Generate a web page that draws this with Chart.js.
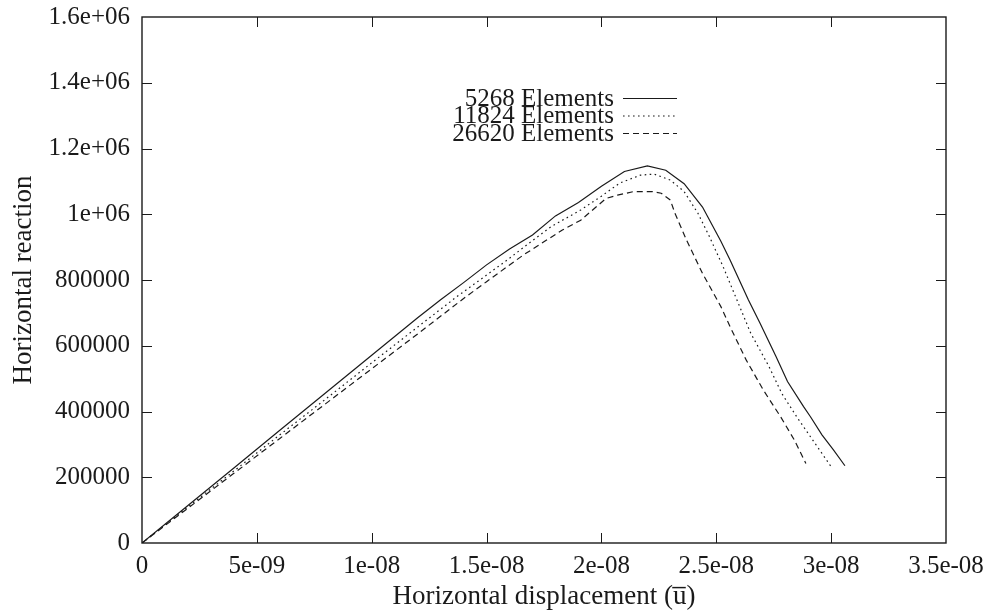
<!DOCTYPE html>
<html>
<head>
<meta charset="utf-8">
<script src="https://cdn.jsdelivr.net/npm/chart.js@4"></script>
<style>
  body { margin: 0; background: #fff; }
</style>
</head>
<body>
<canvas id="reaction" width="998" height="613"></canvas>
<script>
// values
const seriesNames = ['5268 Elements', '11824 Elements', '26620 Elements'];

const x5268 = [0, 2e-9, 4e-9, 6e-9, 8e-9, 10e-9, 12e-9, 13e-9, 14e-9, 15e-9, 16e-9, 17e-9, 18e-9, 19e-9, 20e-9, 21e-9,
  22e-9, 22.8e-9, 23.6e-9, 24.4e-9, 25.2e-9, 25.6e-9, 26e-9, 26.4e-9, 26.9e-9, 27.6e-9, 28.1e-9, 28.8e-9, 29.1e-9,
  29.6e-9, 30.1e-9, 30.6e-9];
const y5268 = [0, 114000, 228000, 343000, 457000, 571000, 685000, 740000, 792000, 846000, 894000, 937000, 995000,
  1036000, 1085000, 1130000, 1147000, 1134000, 1093000, 1022000, 918000, 861000, 800000, 739000, 669000, 567000,
  491000, 415000, 384000, 329000, 283000, 235000];

const x11824 = [0, 2e-9, 4e-9, 6e-9, 8e-9, 10e-9, 12e-9, 13.7e-9, 15e-9, 15.9e-9, 17e-9, 17.8e-9, 19.1e-9, 20e-9,
  20.8e-9, 21.7e-9, 22.3e-9, 23e-9, 23.6e-9, 24.2e-9, 24.7e-9, 25.3e-9, 25.9e-9, 26.5e-9, 27.3e-9, 27.85e-9, 28.5e-9,
  29.2e-9, 30e-9];
const y11824 = [0, 110000, 219000, 329000, 438000, 548000, 657000, 749000, 815000, 861000, 920000, 962000, 1013000,
  1055000, 1095000, 1119000, 1122000, 1104000, 1069000, 1003000, 932000, 840000, 739000, 638000, 536000, 455000,
  384000, 313000, 232000];

const x26620 = [0, 2e-9, 4e-9, 6e-9, 8e-9, 10e-9, 12e-9, 14.1e-9, 15e-9, 16.6e-9, 18.3e-9, 19.1e-9, 20.2e-9, 20.7e-9,
  21.4e-9, 22.2e-9, 22.6e-9, 23e-9, 23.2e-9, 23.7e-9, 24.4e-9, 25.2e-9, 25.6e-9, 26.3e-9, 27.05e-9, 27.8e-9, 28.4e-9,
  28.9e-9];
const y26620 = [0, 106000, 212000, 318000, 424000, 530000, 636000, 749000, 795000, 876000, 952000, 982000, 1048000,
  1058000, 1069000, 1069000, 1064000, 1043000, 1003000, 922000, 820000, 719000, 658000, 557000, 465000, 384000,
  313000, 242000];

const xTickValues = [0, 5e-9, 1e-8, 1.5e-8, 2e-8, 2.5e-8, 3e-8, 3.5e-8];
const xTickLabels = ['0', '5e-09', '1e-08', '1.5e-08', '2e-08', '2.5e-08', '3e-08', '3.5e-08'];
const yTickValues = [0, 200000, 400000, 600000, 800000, 1000000, 1200000, 1400000, 1600000];
const yTickLabels = ['0', '200000', '400000', '600000', '800000', '1e+06', '1.2e+06', '1.4e+06', '1.6e+06'];

const FONT = "'Liberation Serif', 'DejaVu Serif', serif";
const INK = '#1a1a1a';
const dashes = [[], [1.6, 3.4], [6, 4]];

function pts(xs, ys) {
  return xs.map((x, i) => ({x: x, y: ys[i]}));
}

// gnuplot style frame, inward mirrored ticks and key
const gnuFrame = {
  id: 'gnuFrame',
  afterDatasetsDraw(chart) {
    const {ctx, chartArea: a, scales} = chart;
    ctx.save();
    ctx.strokeStyle = INK;
    ctx.lineWidth = 1.4;
    ctx.strokeRect(a.left, a.top, a.right - a.left, a.bottom - a.top);
    ctx.lineWidth = 1;
    const len = 10;
    ctx.beginPath();
    xTickValues.slice(1, -1).forEach(v => {
      const px = Math.round(scales.x.getPixelForValue(v)) + 0.5;
      ctx.moveTo(px, a.bottom); ctx.lineTo(px, a.bottom - len);
      ctx.moveTo(px, a.top); ctx.lineTo(px, a.top + len);
    });
    yTickValues.slice(1, -1).forEach(v => {
      const py = Math.round(scales.y.getPixelForValue(v)) + 0.5;
      ctx.moveTo(a.left, py); ctx.lineTo(a.left + len, py);
      ctx.moveTo(a.right, py); ctx.lineTo(a.right - len, py);
    });
    ctx.stroke();

    // key
    ctx.font = '25px ' + FONT;
    ctx.fillStyle = INK;
    ctx.textAlign = 'right';
    ctx.textBaseline = 'middle';
    const textRight = 614, lineL = 623, lineR = 677;
    const rowY = [98, 115.5, 133];
    seriesNames.forEach((name, i) => {
      ctx.fillText(name, textRight, rowY[i] + 1);
      ctx.save();
      ctx.setLineDash(dashes[i]);
      ctx.lineWidth = 1.2;
      ctx.beginPath();
      ctx.moveTo(lineL, rowY[i] + 0.5);
      ctx.lineTo(lineR, rowY[i] + 0.5);
      ctx.stroke();
      ctx.restore();
    });
    ctx.restore();
  }
};

const ctx = document.getElementById('reaction');
new Chart(ctx, {
  type: 'line',
  data: {
    datasets: [
      {label: seriesNames[0], data: pts(x5268, y5268), borderDash: dashes[0]},
      {label: seriesNames[1], data: pts(x11824, y11824), borderDash: dashes[1]},
      {label: seriesNames[2], data: pts(x26620, y26620), borderDash: dashes[2]}
    ].map(d => Object.assign(d, {
      borderColor: INK,
      borderWidth: 1.2,
      pointRadius: 0,
      tension: 0,
      fill: false
    }))
  },
  options: {
    responsive: false,
    animation: false,
    layout: {padding: {top: 17, right: 52, left: 0, bottom: 0}},
    plugins: {
      legend: {display: false},
      tooltip: {enabled: false}
    },
    scales: {
      x: {
        type: 'linear',
        min: 0,
        max: 3.5e-8,
        afterBuildTicks: s => { s.ticks = xTickValues.map(v => ({value: v})); },
        afterFit: s => { s.height = 70; s.paddingLeft = 0; s.paddingRight = 0; },
        grid: {display: false, drawTicks: false},
        border: {display: false},
        ticks: {
          padding: 8,
          maxRotation: 0,
          autoSkip: false,
          color: INK,
          font: {family: FONT, size: 25},
          callback: (v, i) => xTickLabels[i]
        },
        title: {
          display: true,
          text: 'Horizontal displacement (u\u0305)',
          color: INK,
          font: {family: FONT, size: 27},
          padding: {top: 0, bottom: 0}
        }
      },
      y: {
        type: 'linear',
        min: 0,
        max: 1.6e6,
        afterBuildTicks: s => { s.ticks = yTickValues.map(v => ({value: v})); },
        afterFit: s => { s.width = 142; s.paddingTop = 0; s.paddingBottom = 0; },
        grid: {display: false, drawTicks: false},
        border: {display: false},
        ticks: {
          padding: 12,
          autoSkip: false,
          color: INK,
          font: {family: FONT, size: 25},
          callback: (v, i) => yTickLabels[i]
        },
        title: {
          display: true,
          text: 'Horizontal reaction',
          color: INK,
          font: {family: FONT, size: 27},
          padding: {top: 8, bottom: 0}
        }
      }
    }
  },
  plugins: [gnuFrame]
});
</script>
</body>
</html>
